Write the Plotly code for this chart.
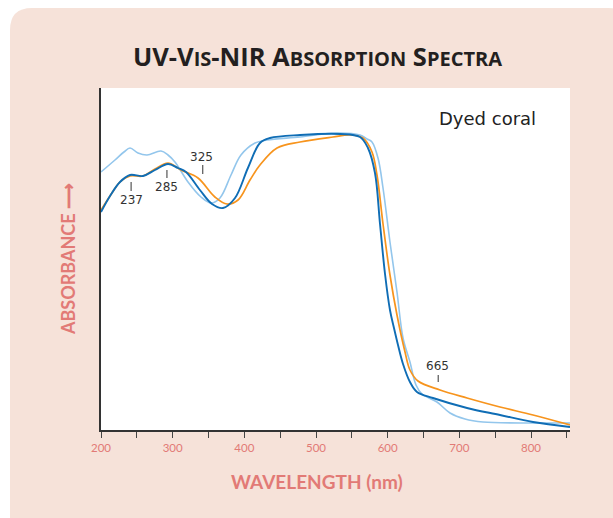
import plotly.graph_objects as go

# Wavelength (nm) and absorbance (arbitrary units)
dark_nm = [200, 212.6, 226.5, 240.5, 258.6, 275.3, 293.5, 307.4, 318.6, 338, 354.9, 370.2, 387, 405,
           421.8, 435.8, 477.7, 533.5, 561.4, 572.5, 582.3, 589.3, 596.3, 603.2, 608.8, 614.4, 621.4,
           631.1, 640.9, 663.2, 710.7, 756.7, 802.8, 854.4]
dark_abs = [2.18, 2.34, 2.48, 2.55, 2.54, 2.60, 2.66, 2.62, 2.58, 2.40, 2.26, 2.22, 2.32, 2.62,
            2.87, 2.92, 2.95, 2.96, 2.93, 2.82, 2.57, 2.06, 1.56, 1.20, 1.02, 0.85, 0.66,
            0.48, 0.38, 0.32, 0.22, 0.15, 0.08, 0.03]

orange_nm = [200, 212.6, 226.5, 240.5, 258.6, 275.3, 293.5, 311.6, 335.3, 359, 375.8, 391.2, 407.9,
             421.8, 445.6, 477.7, 523.7, 547.4, 565.6, 578.1, 585.1, 593.5, 603.2, 613, 624.2, 631.1,
             642.3, 673, 710.7, 756.7, 802.8, 854.4]
orange_abs = [2.20, 2.34, 2.48, 2.54, 2.54, 2.61, 2.67, 2.60, 2.52, 2.33, 2.26, 2.30, 2.50,
              2.65, 2.82, 2.88, 2.93, 2.95, 2.92, 2.78, 2.55, 2.06, 1.55, 1.15, 0.78, 0.60,
              0.49, 0.40, 0.32, 0.23, 0.15, 0.05]

light_nm = [200, 219.5, 232, 240.5, 251.6, 264.2, 283.7, 293.5, 303.2, 321.4, 339.5, 353.5, 366,
            381.4, 395.3, 414.9, 431.6, 477.7, 529.3, 561.4, 571.1, 578.1, 586.5, 593.5, 603.2, 613,
            621.4, 631.1, 639.5, 647.9, 668.8, 687, 707.9, 733, 802.8, 854.4]
light_abs = [2.58, 2.70, 2.78, 2.82, 2.77, 2.75, 2.79, 2.75, 2.68, 2.48, 2.33, 2.27, 2.32,
             2.55, 2.75, 2.87, 2.90, 2.93, 2.97, 2.95, 2.91, 2.88, 2.72, 2.42, 1.88, 1.38,
             0.92, 0.68, 0.45, 0.36, 0.28, 0.17, 0.11, 0.08, 0.07, 0.07]

peak_labels = ["237", "285", "325", "665"]
peak_label_x = [241.9, 292.0, 340.9, 670.2]
peak_label_y = [2.30, 2.43, 2.73, 0.64]
peak_tick_x = [242.0, 292.0, 342.0, 670.5]
peak_tick_y0 = [2.39, 2.52, 2.56, 0.48]
peak_tick_y1 = [2.48, 2.60, 2.65, 0.55]

x_ticks = [200, 300, 400, 500, 600, 700, 800]

W, H = 613, 518
L, R, T, B = 101, 570, 88, 430
pw, ph = R - L, B - T


def px(x):
    return (x - L) / pw


def py(y):
    return (B - y) / ph


PEACH = "#f6e2d9"
SALMON = "#e27a76"

fig = go.Figure()
fig.add_trace(go.Scatter(x=light_nm, y=light_abs, mode="lines", line=dict(color="#93c6ec", width=1.6, shape="spline"),
                         hoverinfo="skip"))
fig.add_trace(go.Scatter(x=orange_nm, y=orange_abs, mode="lines", line=dict(color="#f7941d", width=1.7, shape="spline"),
                         hoverinfo="skip"))
fig.add_trace(go.Scatter(x=dark_nm, y=dark_abs, mode="lines", line=dict(color="#0f6db5", width=1.9, shape="spline"),
                         hoverinfo="skip"))

# background panel with rounded corners (page coordinates)
x0, x1, y0, y1, r = 10, 630, 8, 560, 22
path = (f"M {px(x0)},{py(y1)} L {px(x0)},{py(y0 + r)} Q {px(x0)},{py(y0)} {px(x0 + r)},{py(y0)} "
        f"L {px(x1 - r)},{py(y0)} Q {px(x1)},{py(y0)} {px(x1)},{py(y0 + r)} L {px(x1)},{py(y1)} Z")
shapes = [
    dict(type="path", xref="paper", yref="paper", path=path, fillcolor=PEACH, line=dict(width=0), layer="below"),
    dict(type="rect", xref="paper", yref="paper", x0=0, x1=1, y0=0, y1=1, fillcolor="white",
         line=dict(width=0), layer="below"),
]
for tx, ya, yb in zip(peak_tick_x, peak_tick_y0, peak_tick_y1):
    shapes.append(dict(type="line", xref="x", yref="y", x0=tx, x1=tx, y0=ya, y1=yb,
                       line=dict(color="#333333", width=1)))

annotations = []
for t, ax_, ay_ in zip(peak_labels, peak_label_x, peak_label_y):
    annotations.append(dict(x=ax_, y=ay_, xref="x", yref="y", text=t, showarrow=False,
                            xanchor="center", yanchor="middle",
                            font=dict(family="DejaVu Sans", size=12, color="#333333")))


def page_text(x, y, text, font, angle=0):
    annotations.append(dict(x=px(x), y=py(y), xref="paper", yref="paper", text=text, showarrow=False,
                            xanchor="center", yanchor="middle", textangle=angle, font=font))


page_text(487, 118, "Dyed coral", dict(family="DejaVu Sans", size=18, color="#222222"))

small = "<span style='font-size:20px'>"
title = (f"<b>UV-V{small}IS</span>-NIR A{small}BSORPTION</span> S{small}PECTRA</span></b>")
page_text(317, 56, title, dict(family="Open Sans", size=25.5, color="#231f20"))
page_text(317, 481, "<b>WAVELENGTH (nm)</b>", dict(family="Lato", size=19, color=SALMON))
page_text(68, 259, "<b>ABSORBANCE ⟶</b>", dict(family="Lato", size=18, color=SALMON), angle=-90)

fig.update_layout(
    width=W, height=H,
    margin=dict(l=L, r=W - R, t=T, b=H - B, pad=0),
    paper_bgcolor="white", plot_bgcolor="rgba(0,0,0,0)",
    showlegend=False, hovermode=False,
    shapes=shapes, annotations=annotations,
)
fig.update_xaxes(range=[200, 854.4], tickvals=x_ticks, ticks="outside", ticklen=6, tickcolor="#444444",
                 tickwidth=1.3, showline=True, linecolor="#333333", linewidth=1.5, showgrid=False, zeroline=False,
                 tickfont=dict(family="Lato", size=11.5, color=SALMON),
                 minor=dict(dtick=50, tick0=200, ticks="outside", ticklen=6, tickcolor="#444444", tickwidth=1.3,
                            showgrid=False))
fig.update_yaxes(range=[0, 3.42], showticklabels=False, ticks="", showline=True, linecolor="#333333",
                 linewidth=1.5, showgrid=False, zeroline=False)

fig.write_html("out.html", config={"displayModeBar": False},
               post_script="document.body.style.margin='0';document.body.style.overflow='hidden';"
                           "document.documentElement.style.overflow='hidden';")
